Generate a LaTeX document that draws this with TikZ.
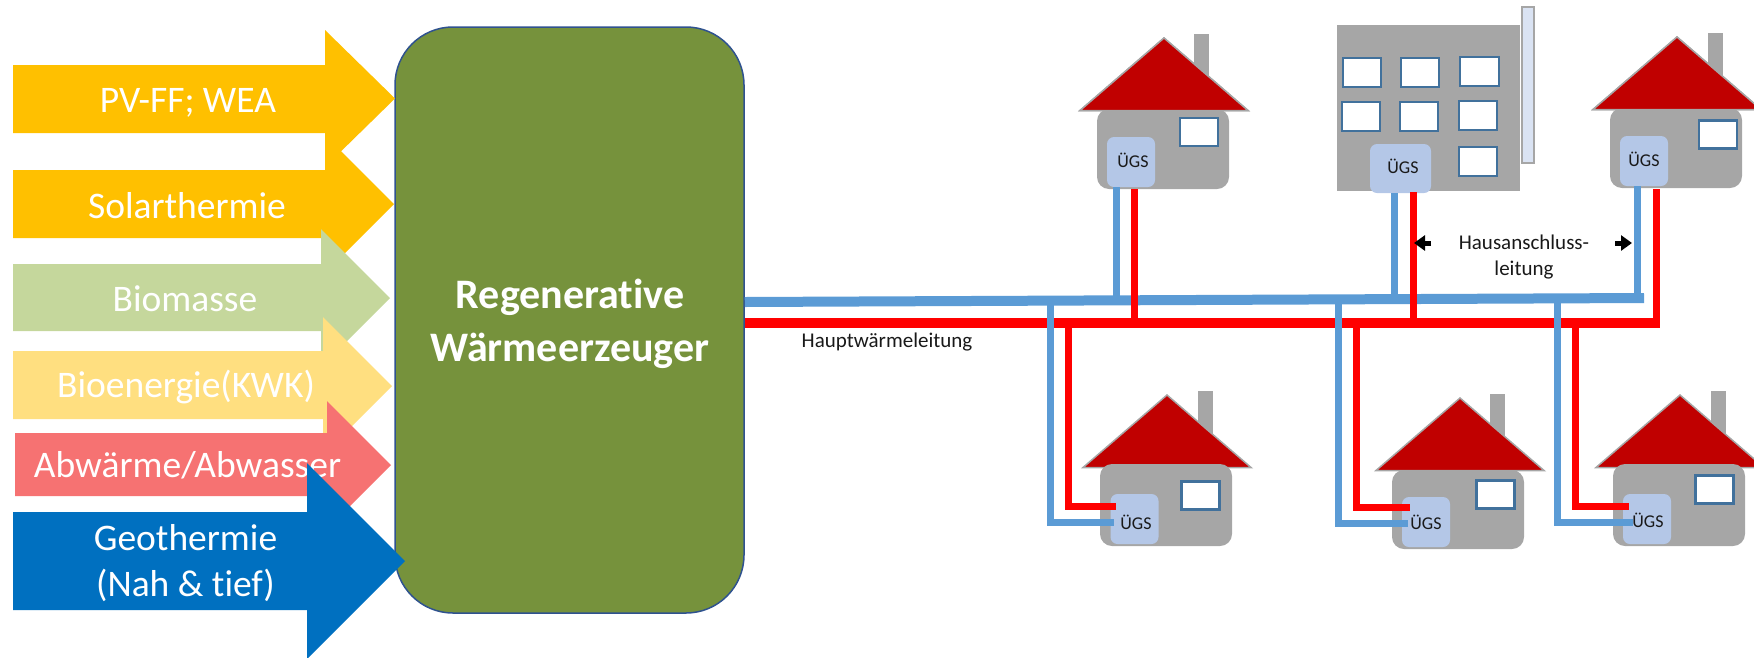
\documentclass[tikz,border=0pt]{standalone}
\usepackage{fontspec}
\setmainfont[Ligatures=NoCommon]{Carlito}
\usetikzlibrary{arrows.meta}
\definecolor{cPV}{HTML}{FFC000}
\definecolor{cBio}{HTML}{C5D79C}
\definecolor{cKWK}{HTML}{FFDF80}
\definecolor{cAbw}{HTML}{F67272}
\definecolor{cGeo}{HTML}{0070C0}
\definecolor{cGreen}{HTML}{76923C}
\definecolor{cEdge}{HTML}{2F528F}
\definecolor{cPipeB}{HTML}{5B9BD5}
\definecolor{cPipeR}{HTML}{FF0000}
\definecolor{cGrey}{HTML}{A6A6A6}
\definecolor{cRoof}{HTML}{C00000}
\definecolor{cWin}{HTML}{41719C}
\definecolor{cUgs}{HTML}{B4C7E7}
\definecolor{cSide}{HTML}{DAE3F3}
\tikzset{
  arrowtext/.style={text=white,font=\fontsize{37.5}{46}\selectfont,align=center,inner sep=0pt},
  bluemain/.style={draw=cPipeB,line width=10pt},
  redmain/.style={draw=cPipeR,line width=10pt},
  bluepipe/.style={draw=cPipeB,line width=7pt,line join=miter},
  redpipe/.style={draw=cPipeR,line width=7pt,line join=miter},
  ugsbox/.style={fill=cUgs,rounded corners=7pt,inner sep=0pt},
  ugstext/.style={font=\fontsize{18}{20}\selectfont,inner sep=0pt,text=black!90},
  pipetext/.style={font=\fontsize{21}{26}\selectfont,inner sep=0pt,align=center,text=black!90},
  windowbox/.style={draw=cWin,line width=2.5pt,fill=white},
  pointer/.style={draw=black,line width=5pt,-{Triangle[length=11pt,width=15pt]}}
}
% name, colour, x0, neck, ytop, ybot, tipx, tipy, halfhead
\newcommand{\energyarrow}[9]{%
  \fill[#2] (#3,#5) -- (#4,#5) -- (#4,#8-#9) -- (#7,#8) -- (#4,#8+#9) -- (#4,#6) -- (#3,#6) -- cycle;
  \coordinate (#1) at (#3,#5);
}
% apexX, apexY, roofBottom, chimneyX, chimneyY
\newcommand{\chimroof}[5]{%
  \fill[cGrey] (#4,#5) rectangle (#4+15,#2+50);
  \fill[cRoof,draw=cGrey,line width=1.5pt,line join=miter] (#1,#2) -- (#1+84,#3) -- (#1-84,#3) -- cycle;
}
% left, top, bottom, winX, winY
\newcommand{\housebody}[5]{%
  \fill[cGrey,rounded corners=12pt] (#1,#2) rectangle (#1+132,#3);
  \draw[windowbox] (#4,#5) rectangle (#4+38,#5+28);
}
\begin{document}
\begin{tikzpicture}[x=1pt,y=-1pt]
\clip (0,0) rectangle (1754,657);
\useasboundingbox (0,0) rectangle (1754,657);

% --- generator
\node[draw=cEdge,line width=1.5pt,fill=cGreen,rounded corners=58pt,minimum width=349pt,minimum height=586pt,inner sep=0pt] (gen) at (569.5,320) {};
\node[text=white,font=\bfseries\fontsize{42}{53}\selectfont,align=center,inner sep=0pt] (gentext) at (570,323.5) {Regenerative\\Wärmeerzeuger};

% --- energy arrows
\energyarrow{aPV}{cPV}{13}{325}{65}{133}{395}{98.5}{68.5}
\node[arrowtext] (tPV) at (188,103) {PV-FF; WEA};
\energyarrow{aSol}{cPV}{13}{325}{170}{238}{394}{204}{69}
\node[arrowtext] (tSol) at (187,206) {Solarthermie};
\energyarrow{aBio}{cBio}{13}{321}{264}{331}{390}{298}{69}
\node[arrowtext] (tBio) at (185,298.5) {Biomasse};
\energyarrow{aKWK}{cKWK}{13}{323}{351}{419}{392}{386}{69}
\node[arrowtext] (tKWK) at (186,386.5) {Bioenergie(KWK)};
\energyarrow{aAbw}{cAbw}{15}{327}{433}{496}{391}{465}{64}
\node[arrowtext] (tAbw) at (187.5,465) {Abwärme/Abwasser};
\energyarrow{aGeo}{cGeo}{13}{307}{512}{610}{405}{561}{98}
\node[arrowtext] (tGeo) at (185.5,563) {Geothermie\\(Nah \& tief)};

% --- top left house
\chimroof{1164}{38}{110.5}{1194}{34}
\housebody{1097}{109}{189}{1180}{118}
\fill[cRoof,draw=cGrey,line width=1.5pt] (1164,38) -- (1248,110.5) -- (1080,110.5) -- cycle;
\node[ugsbox,minimum width=48pt,minimum height=50pt] (u1) at (1131,162) {};

% --- block of flats
\fill[cSide,draw=cGrey,line width=2pt] (1522,7) rectangle (1534,163);
\fill[cGrey] (1337,25) rectangle (1520,191);
\draw[windowbox] (1343,58) rectangle (1381,87);
\draw[windowbox] (1401,58) rectangle (1439,87);
\draw[windowbox] (1460,57) rectangle (1499,86);
\draw[windowbox] (1342,102) rectangle (1380,131);
\draw[windowbox] (1400,102) rectangle (1438,131);
\draw[windowbox] (1459,101) rectangle (1497,130);
\draw[windowbox] (1459,147) rectangle (1497,176);
\node[ugsbox,minimum width=61pt,minimum height=49pt] (u2) at (1400.5,168.5) {};

% --- top right house
\chimroof{1677}{37}{109.5}{1708}{33}
\housebody{1610}{108}{188}{1699}{120.5}
\fill[cRoof,draw=cGrey,line width=1.5pt] (1677,37) -- (1761,109.5) -- (1593,109.5) -- cycle;
\node[ugsbox,minimum width=48pt,minimum height=50pt] (u3) at (1644,161) {};

% --- lower houses
\chimroof{1167}{395}{467.5}{1198}{391}
\housebody{1100}{464}{546}{1181.5}{481.5}
\node[ugsbox,minimum width=48pt,minimum height=50pt] (u4) at (1134.5,519) {};

\chimroof{1460}{398}{470.5}{1490}{394}
\housebody{1392}{470}{549}{1476.5}{480.5}
\node[ugsbox,minimum width=48pt,minimum height=50pt] (u5) at (1426,522) {};

\chimroof{1680}{395}{467.5}{1711}{391}
\housebody{1613}{464}{546}{1695.5}{475.5}
\node[ugsbox,minimum width=48pt,minimum height=50pt] (u6) at (1647,519) {};

% --- pipe coordinates
\coordinate (rmS) at (gen.east |- 0,323);
\coordinate (rmE) at (1660,323);
\coordinate (bmS) at (gen.east |- 0,302);
\coordinate (bmE) at (1644,298);
\coordinate (r1) at (1134,323);   \coordinate (r1t) at (1134,189);
\coordinate (b1) at (1116,300);
\coordinate (r2) at (1413,323);   \coordinate (r2t) at (1413,192);
\coordinate (b2) at (1394,299);
\coordinate (r3) at (1656,323);   \coordinate (r3t) at (1656,189);
\coordinate (b3) at (1637,298);
\coordinate (bd1) at (1050,301);  \coordinate (bc1) at (1050,522);
\coordinate (rd1) at (1068,323);  \coordinate (rc1) at (1068,506);
\coordinate (bd2) at (1338,299);  \coordinate (bc2) at (1338,523);
\coordinate (rd2) at (1356,323);  \coordinate (rc2) at (1356,507);
\coordinate (bd3) at (1557,298);  \coordinate (bc3) at (1557,522);
\coordinate (rd3) at (1575,323);  \coordinate (rc3) at (1575,506);

% --- pipes
\draw[redmain] (rmS) -- (rmE);
\draw[redpipe] (rd1) -- (rc1) -- ([xshift=6pt]u4.west |- rc1);
\draw[redpipe] (rd2) -- (rc2) -- ([xshift=8pt]u5.west |- rc2);
\draw[redpipe] (rd3) -- (rc3) -- ([xshift=6pt]u6.west |- rc3);
\draw[bluepipe] (bd1) -- (bc1) -- ([xshift=4pt]u4.west |- bc1);
\draw[bluepipe] (bd2) -- (bc2) -- ([xshift=6pt]u5.west |- bc2);
\draw[bluepipe] (bd3) -- (bc3) -- ([xshift=10pt]u6.west |- bc3);
\draw[bluepipe] (b1) -- (b1 |- u1.south);
\draw[bluepipe] (b2) -- (b2 |- u2.south);
\draw[bluepipe] (b3) -- (b3 |- u3.south);
\draw[bluemain] (bmS) -- (bmE);
\draw[redpipe] (r1) -- (r1t);
\draw[redpipe] (r2) -- (r2t);
\draw[redpipe] (r3) -- (r3t);

% --- texts
\node[ugstext] (l1) at (1133,160) {ÜGS};
\node[ugstext] (l2) at (1403,166) {ÜGS};
\node[ugstext] (l3) at (1644,159) {ÜGS};
\node[ugstext] (l4) at (1136,522) {ÜGS};
\node[ugstext] (l5) at (1426,522) {ÜGS};
\node[ugstext] (l6) at (1648,520) {ÜGS};
\node[pipetext] (haupt) at (887,342) {Hauptwärmeleitung};
\node[pipetext] (haus) at (1524,257) {Hausanschluss-\\leitung};

% --- pointers
\coordinate (pL) at (1431,243);
\coordinate (pLt) at (1414,243);
\coordinate (pR) at (1615,243);
\coordinate (pRt) at (1632,243);
\draw[pointer] (pL) -- (pLt);
\draw[pointer] (pR) -- (pRt);
\end{tikzpicture}
\end{document}
